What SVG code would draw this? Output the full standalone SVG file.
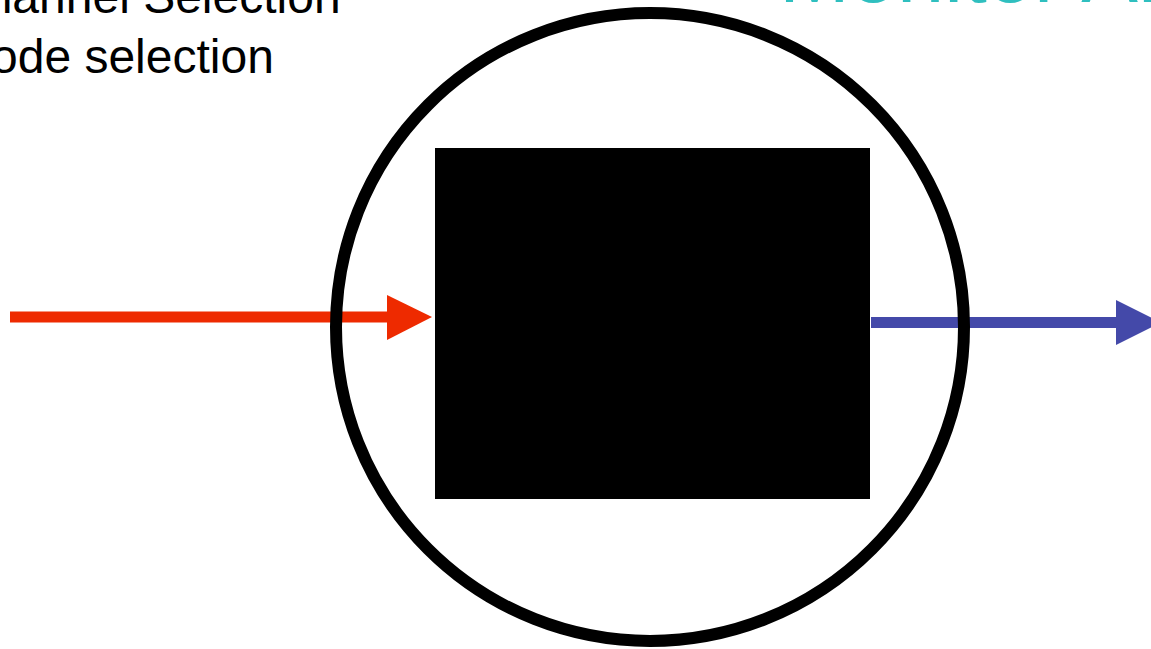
<svg xmlns="http://www.w3.org/2000/svg" width="1151" height="649" viewBox="0 0 1151 649">
  <style>
    .bullet { font-family: "Liberation Sans", Arial, sans-serif; font-size: 48px; fill: #000000; }
    .title { font-family: "Liberation Sans", Arial, sans-serif; font-size: 85px; fill: #2FBFBF; }
  </style>
  <rect x="0" y="0" width="1151" height="649" fill="#FFFFFF"/>
  <g id="title">
    <text class="title" x="779" y="1.5">Monitor Architecture</text>
  </g>
  <g id="bullets">
    <text class="bullet" x="-49" y="13">Channel Selection</text>
    <text class="bullet" x="-49" y="72.5">Mode selection</text>
  </g>
  <g id="connectors">
    <g id="input-arrow" fill="#EE2A00">
      <rect x="10" y="311.5" width="378" height="11"/>
      <polygon points="387,295 432,317 387,340"/>
    </g>
    <g id="output-arrow" fill="#4449A9">
      <rect x="871" y="317" width="246" height="11"/>
      <polygon points="1116,300 1161,322.5 1116,345"/>
    </g>
  </g>
  <g id="box">
    <rect x="435" y="148" width="435" height="351" fill="#000000"/>
  </g>
  <g id="boundary">
    <circle cx="650" cy="327" r="314" fill="none" stroke="#000000" stroke-width="12"/>
  </g>
</svg>
